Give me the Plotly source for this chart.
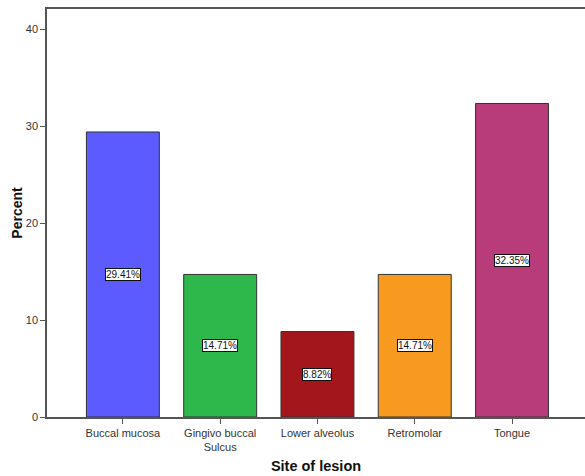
import plotly.graph_objects as go

categories = ["Buccal mucosa", "Gingivo buccal<br>Sulcus", "Lower alveolus", "Retromolar", "Tongue"]
percents = [29.41, 14.71, 8.82, 14.71, 32.35]
bar_colors = ["#5B5BFF", "#2EB84B", "#A3161B", "#F89A1F", "#B93C7A"]
y_ticks = [0, 10, 20, 30, 40]

fig = go.Figure()
fig.add_trace(go.Bar(
    x=list(range(len(categories))), y=percents,
    marker=dict(color=bar_colors, line=dict(color="#333333", width=1)),
    width=0.75, showlegend=False, hoverinfo="skip",
))

for i, v in enumerate(percents):
    fig.add_annotation(
        x=i, y=v / 2, text=f"{v:.2f}%", showarrow=False,
        font=dict(family="Liberation Sans, Arial", size=10, color="#111111"),
        bgcolor="white", bordercolor="#111111", borderwidth=1, borderpad=0,
    )

fig.update_layout(
    width=585, height=476,
    margin=dict(l=47, r=0, t=9, b=59),
    paper_bgcolor="white", plot_bgcolor="white",
    font=dict(family="Liberation Sans, Arial", size=11, color="#333333"),
    bargap=0.25,
)
fig.update_xaxes(
    range=[-0.78, 4.75],
    tickmode="array", tickvals=list(range(len(categories))), ticktext=categories,
    ticks="outside", ticklen=5, tickcolor="#555555",
    showline=True, linecolor="#555555", linewidth=1.5, mirror=True,
    showgrid=False, zeroline=False,
    tickfont=dict(size=11, color="#333333"),
    title=dict(text="<b>Site of lesion</b>", font=dict(size=14.5, color="#111111"), standoff=9),
)
fig.update_yaxes(
    range=[0, 42.1],
    tickmode="array", tickvals=y_ticks,
    ticks="outside", ticklen=5, tickcolor="#555555",
    showline=True, linecolor="#555555", linewidth=1.5,
    showgrid=False, zeroline=False,
    tickfont=dict(size=11, color="#333333"),
    title=dict(text="<b>Percent</b>", font=dict(size=14, color="#111111"), standoff=0),
)

fig.write_html("out.html")
